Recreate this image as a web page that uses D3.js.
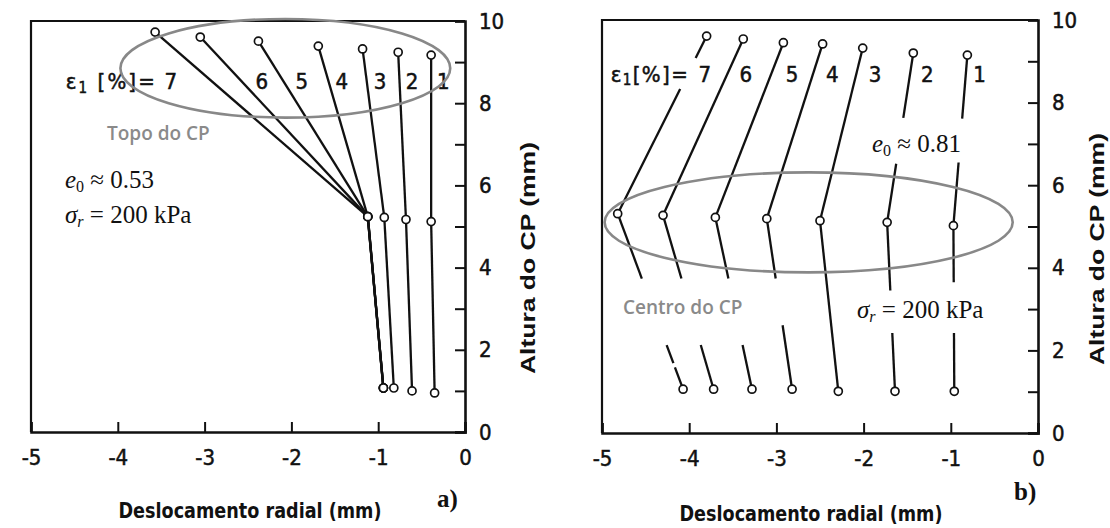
<!DOCTYPE html>
<html><head><meta charset="utf-8">
<script src="https://cdn.jsdelivr.net/npm/d3@7"></script>
<style>
html,body{margin:0;padding:0;background:#fff;}
svg{display:block;}
.tick text{font-family:"DejaVu Sans Condensed","DejaVu Sans",sans-serif;font-stretch:condensed;font-size:22px;fill:#111;stroke:#111;stroke-width:0.5px;}
</style></head>
<body><svg id="c" width="1110" height="528"></svg>
<script>
// ---------------- data ----------------
const strainLabels = ["7","6","5","4","3","2","1"];
const xTicks = [-5,-4,-3,-2,-1,0];
const yTicks = [0,1,2,3,4,5,6,7,8,9,10];
const yTickLabels = ["0","","2","","4","","6","","8","","10"];

// panel a) e0 ≈ 0.53  (top, middle, bottom measuring points)
const aTopX = [-3.57,-3.05,-2.38,-1.69,-1.18,-0.77,-0.39];
const aTopY = [9.73,9.61,9.51,9.39,9.32,9.24,9.17];
const aMidX = [-1.12,-1.12,-1.12,-1.12,-0.93,-0.68,-0.39];
const aMidY = [5.24,5.24,5.24,5.24,5.22,5.17,5.12];
const aBotX = [-0.94,-0.94,-0.94,-0.94,-0.82,-0.61,-0.35];
const aBotY = [1.07,1.07,1.07,1.07,1.07,1.00,0.95];

// panel b) e0 ≈ 0.81
const bTopX = [-3.80,-3.38,-2.92,-2.47,-2.01,-1.43,-0.81];
const bTopY = [9.61,9.54,9.45,9.42,9.32,9.20,9.15];
const bMidX = [-4.82,-4.30,-3.70,-3.11,-2.50,-1.73,-0.97];
const bMidY = [5.31,5.27,5.22,5.19,5.14,5.10,5.02];
const bBotX = [-4.07,-3.72,-3.28,-2.82,-2.29,-1.64,-0.96];
const bBotY = [1.06,1.06,1.06,1.06,1.01,1.01,1.01];
// interrupted parts of the lines in panel b (height ranges, mm)
const bGaps = [
  [[8.33,9.08],[2.13,3.74],[1.59,1.69]],
  [[2.13,3.74]],
  [[2.13,3.74]],
  [[2.61,3.74]],
  [],
  [[6.52,7.63],[2.42,3.45]],
  [[6.55,7.61],[2.42,3.65]]
];

// ---------------- layout ----------------
const svg = d3.select("#c");
const numFont = '"DejaVu Sans Condensed","DejaVu Sans",sans-serif';
const panels = [
  {left:31, right:465, top:21, bottom:432,
   top_:[aTopX,aTopY], mid:[aMidX,aMidY], bot:[aBotX,aBotY], gaps:null,
   labelX:[-3.39,-2.34,-1.88,-1.42,-0.98,-0.61,-0.25], labelY:8.54,
   epsX:-4.60, epsText:" [%]=", epsLen:89, ellipse:{cx:-2.07,cy:8.85,rx:1.90,ry:1.20},
   e0:"0.53", e0pos:[65,188], sigpos:[65,223], cpText:"Topo do CP", cpPos:[107,140],
   tag:"a)", tagPos:[437,507], xlabPos:[250,518], ylabX:535, ylabY:258},
  {left:602, right:1038, top:20, bottom:433,
   top_:[bTopX,bTopY], mid:[bMidX,bMidY], bot:[bBotX,bBotY], gaps:bGaps,
   labelX:[-3.82,-3.35,-2.82,-2.36,-1.87,-1.27,-0.67], labelY:8.70,
   epsX:-4.90, epsText:"[%]=", epsLen:77, ellipse:{cx:-2.63,cy:5.10,rx:2.34,ry:1.21},
   e0:"0.81", e0pos:[872,152], sigpos:[857,318], cpText:"Centro do CP", cpPos:[623,314],
   tag:"b)", tagPos:[1014,500], xlabPos:[811,521], ylabX:1104, ylabY:249}
];

function pieces(p0, p1, gaps){
  // split segment p0-p1 at gap boundaries (by height) and drop hidden parts
  const lo = Math.min(p0[1],p1[1]), hi = Math.max(p0[1],p1[1]);
  let cuts = [p0[1], p1[1]];
  (gaps||[]).forEach(g => g.forEach(v => { if (v>lo && v<hi) cuts.push(v); }));
  cuts = Array.from(new Set(cuts)).sort((a,b)=>b-a);
  const at = y => { const t=(y-p0[1])/(p1[1]-p0[1]); return [p0[0]+t*(p1[0]-p0[0]), y]; };
  const out=[];
  for (let i=0;i<cuts.length-1;i++){
    const m=(cuts[i]+cuts[i+1])/2;
    if ((gaps||[]).some(g => m>g[0] && m<g[1])) continue;
    out.push([at(cuts[i]), at(cuts[i+1])]);
  }
  return out;
}

panels.forEach(P => {
  const x = d3.scaleLinear().domain([-5,0]).range([P.left,P.right]);
  const y = d3.scaleLinear().domain([0,10]).range([P.bottom,P.top]);
  const g = svg.append("g");

  // frame (left and top)
  g.append("path").attr("d",`M${P.left},${P.bottom}V${P.top}H${P.right}`)
    .attr("fill","none").attr("stroke","#111").attr("stroke-width",2.2);

  // axes
  const ax = g.append("g").attr("transform",`translate(0,${P.bottom})`)
    .call(d3.axisBottom(x).tickValues(xTicks).tickSize(-10).tickPadding(0)
      .tickFormat(d => d===0 ? "0" : "-" + Math.abs(d)));
  ax.selectAll("text").attr("dy","1.5em");
  const ay = g.append("g").attr("transform",`translate(${P.right},0)`)
    .call(d3.axisRight(y).tickValues(yTicks).tickSize(-10).tickPadding(14)
      .tickFormat((d,i) => yTickLabels[i]));
  [ax,ay].forEach(a => {
    a.select(".domain").attr("stroke","#111").attr("stroke-width",2.6);
    a.selectAll(".tick line").attr("stroke","#111").attr("stroke-width",2);
  });

  // lines
  const line = d3.line().x(d=>x(d[0])).y(d=>y(d[1]));
  strainLabels.forEach((s,i) => {
    const pts = [[P.top_[0][i],P.top_[1][i]],[P.mid[0][i],P.mid[1][i]],[P.bot[0][i],P.bot[1][i]]];
    const gaps = P.gaps ? P.gaps[i] : [];
    for (let k=0;k<2;k++){
      pieces(pts[k],pts[k+1],gaps).forEach(seg => {
        g.append("path").attr("d",line(seg)).attr("fill","none")
          .attr("stroke","#111").attr("stroke-width",2.3).attr("stroke-linecap","butt");
      });
    }
  });
  // points
  strainLabels.forEach((s,i) => {
    [[P.top_[0][i],P.top_[1][i]],[P.mid[0][i],P.mid[1][i]],[P.bot[0][i],P.bot[1][i]]].forEach(p => {
      g.append("circle").attr("cx",x(p[0])).attr("cy",y(p[1])).attr("r",4)
        .attr("fill","#fff").attr("stroke","#111").attr("stroke-width",1.7);
    });
  });

  // strain labels
  strainLabels.forEach((s,i) => {
    g.append("text").attr("x",x(P.labelX[i])).attr("y",y(P.labelY)).attr("dy","0.36em")
      .attr("text-anchor","middle").attr("font-family",numFont).attr("font-stretch","condensed")
      .attr("font-size",22).attr("fill","#111").attr("stroke","#111").attr("stroke-width",0.5).text(s);
  });
  const eps = g.append("text").attr("x",x(P.epsX)).attr("y",y(P.labelY)).attr("dy","0.36em")
    .attr("font-family",numFont).attr("font-stretch","condensed").attr("font-size",22)
    .attr("fill","#111").attr("stroke","#111").attr("stroke-width",0.5)
    .attr("textLength",P.epsLen).attr("lengthAdjust","spacing");
  eps.append("tspan").text("ε");
  eps.append("tspan").attr("font-size",15).attr("dy","0.25em").text("1");
  eps.append("tspan").attr("dy","-0.15em").text(P.epsText);

  // ellipse
  const E = P.ellipse;
  g.append("ellipse").attr("cx",x(E.cx)).attr("cy",y(E.cy))
    .attr("rx",x(E.cx+E.rx)-x(E.cx)).attr("ry",y(E.cy-E.ry)-y(E.cy))
    .attr("fill","none").attr("stroke","#888").attr("stroke-width",2.6);

  // annotations
  const serif = '"Liberation Serif","DejaVu Serif",serif';
  const e0 = g.append("text").attr("x",P.e0pos[0]).attr("y",P.e0pos[1])
    .attr("font-family",serif).attr("font-size",25).attr("fill","#111");
  e0.append("tspan").attr("font-style","italic").text("e");
  e0.append("tspan").attr("font-size",16).attr("dy","0.25em").text("0");
  e0.append("tspan").attr("dy","-0.17em").text(" ≈ " + P.e0);
  const sg = g.append("text").attr("x",P.sigpos[0]).attr("y",P.sigpos[1])
    .attr("font-family",serif).attr("font-size",25).attr("fill","#111");
  sg.append("tspan").attr("font-style","italic").text("σ");
  sg.append("tspan").attr("font-size",16).attr("font-style","italic").attr("dy","0.25em").text("r");
  sg.append("tspan").attr("dy","-0.17em").text(" = 200 kPa");

  g.append("text").attr("x",P.cpPos[0]).attr("y",P.cpPos[1])
    .attr("font-family",'"Open Sans",sans-serif').attr("font-weight",600)
    .attr("font-size",19).attr("fill","#8a8a8a").text(P.cpText);

  g.append("text").attr("x",P.tagPos[0]).attr("y",P.tagPos[1])
    .attr("font-family",serif).attr("font-weight","bold").attr("font-size",25)
    .attr("fill","#111").text(P.tag);

  // axis titles
  g.append("text").attr("x",P.xlabPos[0]).attr("y",P.xlabPos[1]).attr("text-anchor","middle")
    .attr("font-family",numFont).attr("font-stretch","condensed")
    .attr("font-weight","bold").attr("font-size",21).attr("fill","#111")
    .attr("textLength",263).attr("lengthAdjust","spacingAndGlyphs")
    .text("Deslocamento radial (mm)");
  g.append("text").attr("transform",`translate(${P.ylabX},${P.ylabY}) rotate(-90)`)
    .attr("text-anchor","middle")
    .attr("font-family",'"Liberation Sans","DejaVu Sans",sans-serif')
    .attr("font-weight","bold").attr("font-size",21).attr("fill","#111")
    .attr("textLength",232).attr("lengthAdjust","spacingAndGlyphs")
    .text("Altura do CP (mm)");
});
</script></body></html>
